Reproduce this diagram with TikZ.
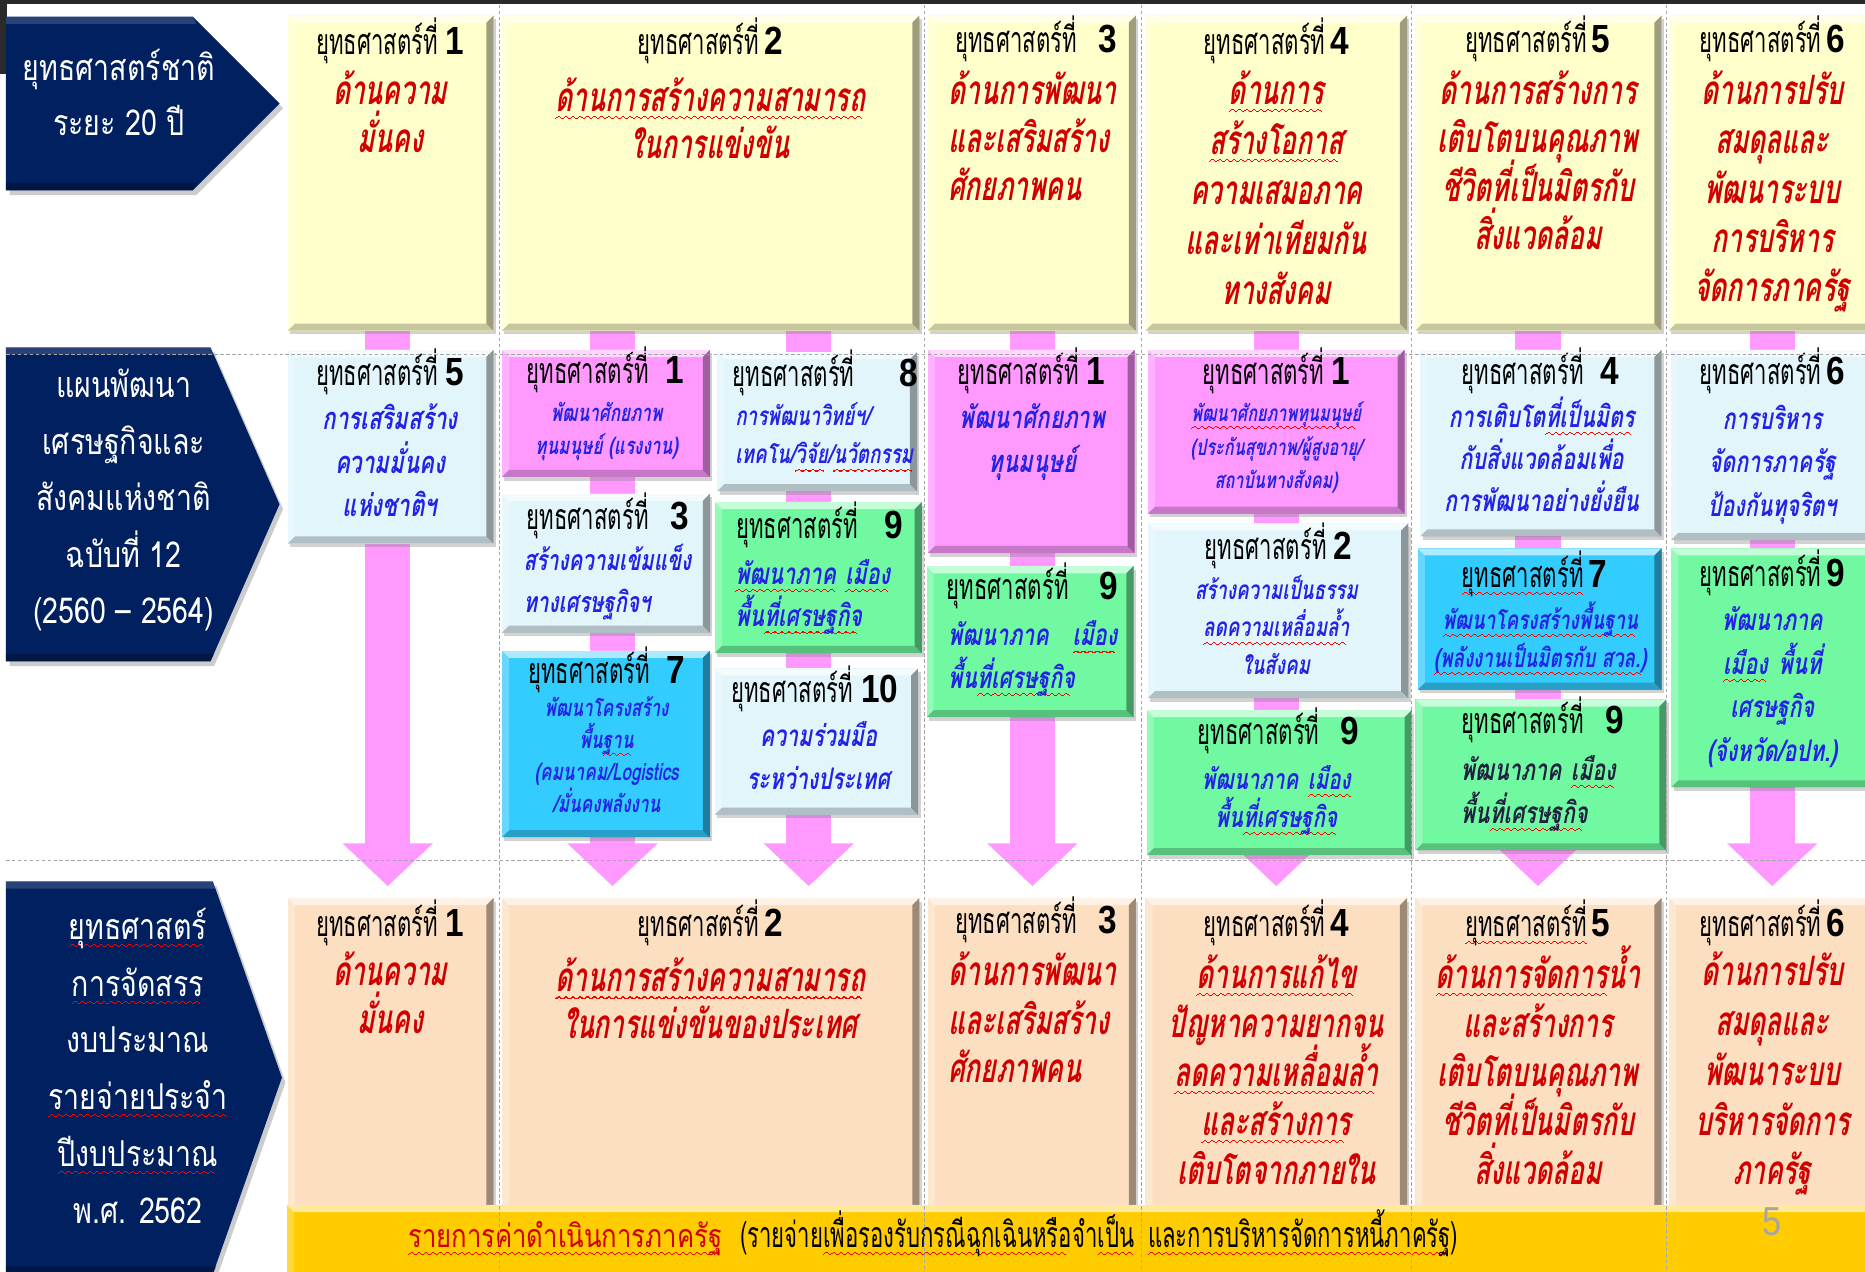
\documentclass[tikz,border=0pt]{standalone}
\usepackage{fontspec}
\usetikzlibrary{arrows.meta,shadows,fit}
\newfontfamily\thT[Script=Thai,FakeStretch=0.62]{Loma}
\newfontfamily\thR[Script=Thai,FakeStretch=0.65,FakeSlant=0.18]{Loma}
\newfontfamily\thB[Script=Thai,FakeStretch=0.72,FakeSlant=0.18]{Loma}
\newfontfamily\thW[Script=Thai,FakeStretch=0.8]{Loma}
\newfontfamily\numf[FakeStretch=0.85]{Liberation Sans}
\newcommand\wvunit{\hbox{\rule[-6.4pt]{1pt}{.9pt}\rule[-5.6pt]{1pt}{.9pt}\rule[-4.8pt]{1pt}{.9pt}\rule[-4.8pt]{1pt}{.9pt}\rule[-5.6pt]{1pt}{.9pt}\rule[-6.4pt]{1pt}{.9pt}}}
\newcommand\wv[1]{\setbox0\hbox{#1}\rlap{\hbox to\wd0{\color{red}\leaders\wvunit\hfill}}\box0}
\newcommand\nm[1]{{\numf\bfseries\fontsize{33}{33}\selectfont #1}}
\definecolor{navy}{HTML}{002060}
\definecolor{ylw}{HTML}{FFFFCC}
\definecolor{lbl}{HTML}{E1F5FA}
\definecolor{pnk}{HTML}{FF99FF}
\definecolor{cyn}{HTML}{33CCFF}
\definecolor{grn}{HTML}{70F9A0}
\definecolor{pch}{HTML}{FCDFC0}
\definecolor{gld}{HTML}{FFCC00}
\definecolor{rtxt}{HTML}{D00000}
\definecolor{btxt}{HTML}{2323E6}
\definecolor{dtxt}{HTML}{202040}
\definecolor{parw}{HTML}{FF99FF}
\definecolor{scr}{HTML}{2A2A2A}
\pgfdeclarelayer{back}\pgfdeclarelayer{bg}\pgfdeclarelayer{fg}
\pgfsetlayers{back,bg,main,fg}
\newdimen\bvw \bvw=6pt
\tikzset{
  bevel/.style={path picture={
    \fill[white,opacity=.6] (path picture bounding box.north west) -- (path picture bounding box.north east) -- ([xshift=-\bvw,yshift=-\bvw]path picture bounding box.north east) -- ([xshift=\bvw,yshift=-\bvw]path picture bounding box.north west) -- cycle;
    \fill[white,opacity=.25] (path picture bounding box.north west) -- (path picture bounding box.south west) -- ([xshift=\bvw,yshift=\bvw]path picture bounding box.south west) -- ([xshift=\bvw,yshift=-\bvw]path picture bounding box.north west) -- cycle;
    \fill[black,opacity=.38] (path picture bounding box.north east) -- (path picture bounding box.south east) -- ([xshift=-\bvw,yshift=\bvw]path picture bounding box.south east) -- ([xshift=-\bvw,yshift=-\bvw]path picture bounding box.north east) -- cycle;
    \fill[black,opacity=.22] (path picture bounding box.south west) -- (path picture bounding box.south east) -- ([xshift=-\bvw,yshift=\bvw]path picture bounding box.south east) -- ([xshift=\bvw,yshift=\bvw]path picture bounding box.south west) -- cycle;
  }},
  bx/.style={fill=#1, inner sep=0pt, outer sep=0pt, draw=none, drop shadow={shadow xshift=2pt,shadow yshift=-3pt,opacity=.35}, bevel},
  parr/.style={draw=parw, line width=38pt, -{Triangle[width=74pt,length=36pt]}, shorten >=10pt},
  grid/.style={draw=gray!70, line width=.6pt, dash pattern=on 3pt off 2pt},
  tb/.style={text height=#1*0.6pt, text depth=#1*0.18pt},
  red/.style={font=\thR\bfseries\fontsize{#1}{#1}\selectfont, text=rtxt, inner sep=0pt, tb=#1},
  blu/.style={font=\thB\bfseries\fontsize{#1}{#1}\selectfont, text=btxt, inner sep=0pt, tb=#1},
  dkb/.style={font=\thB\bfseries\fontsize{#1}{#1}\selectfont, text=dtxt, inner sep=0pt, tb=#1},
  wht/.style={font=\thW\fontsize{#1}{#1}\selectfont, text=white, inner sep=0pt, tb=#1},
  ttlf/.style={font=\thT\fontsize{30}{30}\selectfont, text=black, inner sep=0pt, tb=30},
  bart/.style={font=\thT\fontsize{30}{30}\selectfont, text=black, inner sep=0pt, anchor=base west, tb=28},
}
% name, x, y0 (line centre), dy, style, size, anchor, lines
\newcommand\lns[8]{\foreach \myl [count=\i] in {#8}{\node[#5=#6,anchor=#7] (#1-\i) at (#2,{#3+(\i-1)*#4+0.32*#6}) {\myl};}}
\newcommand\ttl[5]{\node[ttlf,anchor=base] (#1) at (#2,{#3+9}) {ยุทธศาสตร์ที่\hspace{#4}\nm{#5}};}
\newcommand\ttlw[5]{\node[ttlf,anchor=base] (#1) at (#2,{#3+9}) {\wv{ยุทธศาสตร์ที่}\hspace{#4}\nm{#5}};}
\newcommand\navarr[5]{% xleft, ytop, xshoulder, xtip, ybot
  \fill[navy, drop shadow={shadow xshift=3pt,shadow yshift=-4pt,opacity=.4}] (#1,#2) -- (#3,#2) -- (#4,{(#2+#5)/2}) -- (#3,#5) -- (#1,#5) -- cycle;
  \fill[white,opacity=.16] (#1,#2) -- (#3,#2) -- ({#3+3},{#2+6}) -- (#1,{#2+6}) -- cycle;
  \fill[black,opacity=.3] (#1,#5) -- (#3,#5) -- ({#3+3},{#5-6}) -- (#1,{#5-6}) -- cycle;}
\begin{document}
\begin{tikzpicture}[x=1pt,y=-1pt]
\useasboundingbox (0,0) rectangle (1568,1069);
\begin{pgfonlayer}{back}\fill[white] (0,0) rectangle (1568,1069);\end{pgfonlayer}
\fill[scr] (0,0) rectangle (1568,3);
\fill[scr] (0,0) rectangle (6,62);

% ---------- row labels (navy arrows)
\navarr{5}{14}{162}{235}{160}
\navarr{5}{292}{177}{235}{556}
\navarr{5}{741}{179}{237}{1071}
\lns{A1}{100}{58}{46}{wht}{30}{base}{ยุทธศาสตร์ชาติ,ระยะ 20 ปี}
\lns{A2}{104}{325}{47.5}{wht}{30}{base}{แผนพัฒนา,เศรษฐกิจและ,สังคมแห่งชาติ,ฉบับที่ 12,{(2560 – 2564)}}
\lns{A3}{116}{780}{47.8}{wht}{30}{base}{\wv{ยุทธศาสตร์},\wv{การจัดสรร},งบประมาณ,\wv{รายจ่ายประจำ},\wv{ปีงบประมาณ},พ.ศ. 2562}

% ---------- top row
\node[bx=ylw, fit={(242,13) (415,278)}] (T1) {};
\node[bx=ylw, fit={(422,13) (773,278)}] (T2) {};
\node[bx=ylw, fit={(780,13) (955,278)}] (T3) {};
\node[bx=ylw, fit={(963,13) (1183,278)}] (T4) {};
\node[bx=ylw, fit={(1190,13) (1397,278)}] (T5) {};
\node[bx=ylw, fit={(1403,13) (1585,278)}] (T6) {};
\ttl{T1t}{328}{37}{6pt}{1}
\ttl{T2t}{597}{37}{4pt}{2}
\ttl{T3t}{871}{35}{18pt}{3}
\ttl{T4t}{1073}{37}{4pt}{4}
\ttl{T5t}{1293}{35}{4pt}{5}
\ttl{T6t}{1490}{35}{4pt}{6}
\lns{T1b}{328}{77}{40}{red}{34}{base}{ด้านความ,มั่นคง}
\lns{T2b}{597}{83}{39}{red}{34}{base}{\wv{ด้านการสร้างความสามารถ},ในการแข่งขัน}
\lns{T3b}{797}{77}{40.5}{red}{34}{base west}{ด้านการพัฒนา,และเสริมสร้าง,ศักยภาพคน}
\lns{T4b}{1073}{77}{42}{red}{34}{base}{\wv{ด้านการ},\wv{สร้างโอกาส},ความเสมอภาค,และเท่าเทียมกัน,ทางสังคม}
\lns{T5b}{1293}{77}{40.7}{red}{34}{base}{ด้านการสร้างการ,เติบโตบนคุณภาพ,ชีวิตที่เป็นมิตรกับ,สิ่งแวดล้อม}
\lns{T6b}{1490}{77}{41.5}{red}{34}{base}{ด้านการปรับ,สมดุลและ,พัฒนาระบบ,การบริหาร,จัดการภาครัฐ}

% ---------- middle row
\node[bx=lbl, fit={(242,294) (415,457)}] (M1) {};
\node[bx=pnk, fit={(422,294) (597,401)}] (M2a) {};
\node[bx=lbl, fit={(603,296) (771,413)}] (M2b) {};
\node[bx=lbl, fit={(422,415) (597,532)}] (M2c) {};
\node[bx=grn, fit={(601,422) (775,549)}] (M2d) {};
\node[bx=cyn, fit={(422,547) (597,704)}] (M2e) {};
\node[bx=lbl, fit={(601,562) (772,685)}] (M2f) {};
\node[bx=pnk, fit={(780,294) (954,465)}] (M3a) {};
\node[bx=grn, fit={(779,476) (953,603)}] (M3b) {};
\node[bx=pnk, fit={(965,294) (1181,432)}] (M4a) {};
\node[bx=lbl, fit={(965,440) (1184,587)}] (M4b) {};
\node[bx=grn, fit={(964,597) (1187,719)}] (M4c) {};
\node[bx=lbl, fit={(1194,294) (1397,451)}] (M5a) {};
\node[bx=cyn, fit={(1192,461) (1397,580)}] (M5b) {};
\node[bx=grn, fit={(1190,588) (1401,715)}] (M5c) {};
\node[bx=lbl, fit={(1405,294) (1585,454)}] (M6a) {};
\node[bx=grn, fit={(1405,461) (1585,662)}] (M6b) {};
\ttl{M1t}{328}{315}{6pt}{5}
\ttl{M2at}{509}{313}{14pt}{1}
\ttl{M2bt}{694}{316}{38pt}{8}
\ttl{M2ct}{511}{436}{18pt}{3}
\ttl{M2dt}{689}{444}{22pt}{9}
\ttl{M2et}{510}{566}{14pt}{7}
\ttl{M2ft}{685}{582}{7pt}{10}
\ttl{M3at}{867}{314}{6pt}{1}
\ttl{M3bt}{868}{495}{26pt}{9}
\ttl{M4at}{1073}{314}{6pt}{1}
\ttl{M4bt}{1075}{461}{6pt}{2}
\ttl{M4ct}{1075}{617}{18pt}{9}
\ttl{M5at}{1295}{314}{14pt}{4}
\ttlw{M5bt}{1290}{485}{4pt}{7}
\ttl{M5ct}{1297}{608}{18pt}{9}
\ttl{M6at}{1490}{314}{4pt}{6}
\ttl{M6bt}{1490}{484}{4pt}{9}
\lns{M1b}{328}{353}{36.5}{blu}{26}{base}{การเสริมสร้าง,ความมั่นคง,แห่งชาติฯ}
\lns{M2ab}{510}{348}{28}{blu}{20}{base}{พัฒนาศักยภาพ,ทุนมนุษย์ (แรงงาน)}
\lns{M2bb}{618}{351}{32}{blu}{22}{base west}{การพัฒนาวิทย์ฯ/,เทคโน/\wv{วิจัย}/\wv{นวัตกรรม}}
\lns{M2cb}{440}{472}{35}{blu}{24}{base west}{สร้างความเข้มแข็ง,ทางเศรษฐกิจฯ}
\lns{M2db}{618}{483}{36}{blu}{25}{base west}{\wv{พัฒนาภาค}\hspace{8pt}\wv{เมือง},พื้น\wv{ที่เศรษฐกิจ}}
\lns{M2eb}{510}{596}{27}{blu}{20}{base}{พัฒนาโครงสร้าง,พื้น\wv{ฐาน},{(คมนาคม/Logistics},/มั่นคงพลังงาน}
\lns{M2fb}{688}{620}{36}{blu}{25}{base}{ความร่วมมือ,ระหว่างประเทศ}
\lns{M3ab}{868}{352}{37}{blu}{26}{base}{พัฒนาศักยภาพ,ทุนมนุษย์}
\lns{M3bb}{797}{535}{36}{blu}{25}{base west}{พัฒนาภาค\hspace{20pt}\wv{เมือง},พื้น\wv{ที่เศรษฐกิจ}}
\lns{M4ab}{1073}{348}{28.5}{blu}{19}{base}{\wv{พัฒนาศักยภาพทุนมนุษย์},{(ประกันสุขภาพ/ผู้สูงอายุ/},สถาบันทางสังคม)}
\lns{M4bb}{1073}{497}{31.5}{blu}{22}{base}{สร้างความเป็นธรรม,\wv{ลดความเหลื่อมล้ำ},ในสังคม}
\lns{M4cb}{1073}{656}{32}{blu}{24}{base}{พัฒนาภาค\hspace{8pt}\wv{เมือง},พื้น\wv{ที่เศรษฐกิจ}}
\lns{M5ab}{1296}{351}{35.5}{blu}{25}{base}{การเติบโต\wv{ที่เป็นมิตร},กับสิ่งแวดล้อมเพื่อ,การพัฒนาอย่างยั่งยืน}
\lns{M5bb}{1295}{522}{32}{blu}{22}{base}{\wv{พัฒนาโครงสร้างพื้นฐาน},\wv{(พลังงานเป็นมิตรกับ สวล.)}}
\lns{M5cb}{1228}{648}{36}{dkb}{25}{base west}{พัฒนาภาค\hspace{8pt}\wv{เมือง},พื้น\wv{ที่เศรษฐกิจ}}
\lns{M6ab}{1490}{353}{36.5}{blu}{25}{base}{การบริหาร,จัดการภาครัฐ,ป้องกันทุจริตฯ}
\lns{M6bb}{1490}{522}{36.7}{blu}{25}{base}{พัฒนาภาค,\wv{เมือง}\hspace{9pt}พื้นที่,เศรษฐกิจ,{(จังหวัด/อปท.)}}

% ---------- bottom row
\node[bx=pch, fit={(242,755) (415,1022)}] (B1) {};
\node[bx=pch, fit={(422,755) (773,1022)}] (B2) {};
\node[bx=pch, fit={(780,755) (955,1022)}] (B3) {};
\node[bx=pch, fit={(963,755) (1183,1022)}] (B4) {};
\node[bx=pch, fit={(1190,755) (1397,1022)}] (B5) {};
\node[bx=pch, fit={(1403,755) (1585,1022)}] (B6) {};
\ttl{B1t}{328}{778}{6pt}{1}
\ttl{B2t}{597}{778}{4pt}{2}
\ttl{B3t}{871}{776}{18pt}{3}
\ttl{B4t}{1073}{778}{4pt}{4}
\ttlw{B5t}{1293}{778}{4pt}{5}
\ttl{B6t}{1490}{778}{4pt}{6}
\lns{B1b}{328}{818}{40}{red}{34}{base}{ด้านความ,มั่นคง}
\lns{B2b}{597}{823}{39}{red}{34}{base}{\wv{ด้านการสร้างความสามารถ},ในการแข่งขันของประเทศ}
\lns{B3b}{797}{818}{40.5}{red}{34}{base west}{ด้านการพัฒนา,และเสริมสร้าง,ศักยภาพคน}
\lns{B4b}{1073}{820}{41.3}{red}{34}{base}{\wv{ด้านการแก้ไข},ปัญหาความยากจน,\wv{ลดความเหลื่อมล้ำ},\wv{และสร้างการ},เติบโตจากภายใน}
\lns{B5b}{1293}{820}{41.3}{red}{34}{base}{\wv{ด้านการจัดการ}น้ำ,และสร้างการ,เติบโตบนคุณภาพ,ชีวิตที่เป็นมิตรกับ,สิ่งแวดล้อม}
\lns{B6b}{1490}{818}{41.8}{red}{34}{base}{ด้านการปรับ,สมดุลและ,พัฒนาระบบ,บริหารจัดการ,ภาครัฐ}

% ---------- bottom bar
\node[bx=gld, fit={(241,1013) (1585,1080)}] (bar) {};
\node[bart, font=\thW\fontsize{27}{27}\selectfont, text=rtxt] (bar1) at (343,1049) {\wv{รายการค่าดำเนินการภาครัฐ}};
\node[bart] (bar2) at (622,1049) {(รายจ่าย\wv{เพื่อรองรับกรณีฉุกเฉินหรือ}จำ\wv{เป็น}};
\node[bart] (bar3) at (965,1049) {\wv{และการบริหารจัดการหนี้ภาครัฐ})};
\node[font=\numf\fontsize{34}{34}\selectfont, text=gray!70, inner sep=0pt] (pg) at (1490,1027) {5};

% ---------- pink arrows
\coordinate (x1) at (326,0);
\coordinate (x2a) at (515,0);
\coordinate (x2b) at (680,0);
\coordinate (x3) at (868,0);
\coordinate (x4) at (1073,0);
\coordinate (x5) at (1293,0);
\coordinate (x6) at (1490,0);
\begin{pgfonlayer}{bg}
\draw[parr] (T1.south -| x1) -- (B1.north -| x1);
\draw[parr] (T2.south -| x2a) -- (B2.north -| x2a);
\draw[parr] (T2.south -| x2b) -- (B2.north -| x2b);
\draw[parr] (T3.south -| x3) -- (B3.north -| x3);
\draw[parr] (T4.south -| x4) -- (B4.north -| x4);
\draw[parr] (T5.south -| x5) -- (B5.north -| x5);
\draw[parr] (T6.south -| x6) -- (B6.north -| x6);
\end{pgfonlayer}

% ---------- grid lines
\begin{pgfonlayer}{fg}
\draw[grid] (5,298) -- (1568,298);
\draw[grid] (5,723) -- (1568,723);
\foreach \gx in {420,777,960,1187,1401} \draw[grid] (\gx,4) -- (\gx,1069);
\end{pgfonlayer}
\end{tikzpicture}
\end{document}
